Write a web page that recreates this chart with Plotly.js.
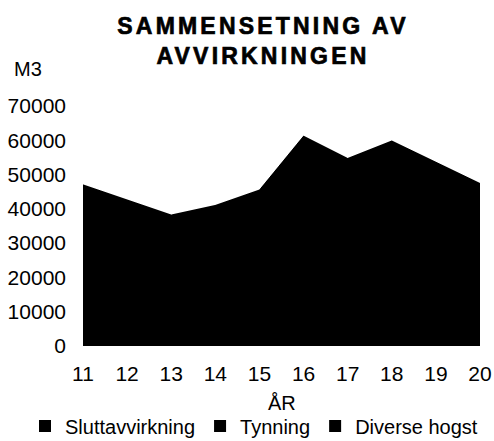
<!DOCTYPE html>
<html><head><meta charset="utf-8">
<script src="https://cdn.plot.ly/plotly-3.0.1.min.js"></script>
<style>
html,body{margin:0;padding:0;background:#fff;}
#chart{width:494px;height:441px;}
.gtitle{letter-spacing:3.2px; stroke:#000; stroke-width:0.7px;}
.js-fill{shape-rendering:crispEdges;}
</style></head><body><div id="chart"></div>
<script>
const years = [11, 12, 13, 14, 15, 16, 17, 18, 19, 20];
const sluttavvirkning = [30000, 27000, 24000, 26000, 29000, 42000, 37000, 41000, 36000, 31000];
const tynning = [12000, 11000, 10000, 10500, 11500, 14000, 13000, 14000, 13000, 12000];
const diverseHogst = [5000, 4700, 4200, 4500, 5000, 5200, 4700, 4800, 4700, 4400];
const seriesNames = ['Sluttavvirkning', 'Tynning', 'Diverse hogst'];
const yTicks = [0, 10000, 20000, 30000, 40000, 50000, 60000, 70000];

const FONT = 'Liberation Sans, Arial, sans-serif';
const seriesValues = [sluttavvirkning, tynning, diverseHogst];

const areaTraces = seriesValues.map((vals, i) => ({
  type: 'scatter', x: years, y: vals, name: seriesNames[i],
  stackgroup: 'one', mode: 'lines', line: {color: '#000000', width: 1},
  fillcolor: '#000000', showlegend: false, hoverinfo: 'x+y+name'
}));
const legendTraces = seriesNames.map(n => ({
  type: 'scatter', x: [null], y: [null], name: n, mode: 'markers',
  marker: {symbol: 'square', size: 12, color: '#000000'}, hoverinfo: 'skip'
}));

const layout = {
  width: 494, height: 441,
  margin: {l: 83, r: 14, t: 106, b: 95, autoexpand: false},
  paper_bgcolor: '#ffffff', plot_bgcolor: '#ffffff',
  font: {family: FONT, color: '#000000', size: 21},
  title: {
    text: 'SAMMENSETNING AV<br>AVVIRKNINGEN',
    font: {family: FONT, size: 23, weight: 'bold', color: '#000000'},
    x: 263 / 494, xref: 'container', xanchor: 'center',
    y: 1 - 34 / 441, yref: 'container', yanchor: 'middle'
  },
  xaxis: {
    range: [11, 20], tickvals: years, ticktext: years.map(String),
    showgrid: false, zeroline: false, showline: false, ticks: '',
    ticklabelstandoff: 13, tickfont: {size: 21}
  },
  yaxis: {
    range: [0, 70000], tickvals: yTicks, tickformat: 'd',
    showgrid: false, zeroline: false, showline: false, ticks: '',
    ticklabelstandoff: 16, tickfont: {size: 21}
  },
  legend: {
    orientation: 'h', xref: 'paper', yref: 'paper', traceorder: 'normal',
    x: (25 - 83) / 397, xanchor: 'left', y: (346 - 426) / 240, yanchor: 'middle',
    font: {size: 20}, itemwidth: 30, tracegroupgap: 0
  },
  annotations: [{
    text: 'M3', xref: 'paper', yref: 'paper', showarrow: false,
    x: (28 - 83) / 397, xanchor: 'center',
    y: 1 + (106 - 69) / 240, yanchor: 'middle',
    font: {size: 20}
  }, {
    text: 'ÅR', xref: 'paper', yref: 'paper', showarrow: false,
    x: 0.5, xanchor: 'center',
    y: (346 - 403) / 240, yanchor: 'middle',
    font: {size: 20}
  }],
  showlegend: true
};

Plotly.newPlot('chart', [...areaTraces, ...legendTraces], layout, {displayModeBar: false, staticPlot: true});
</script></body></html>
